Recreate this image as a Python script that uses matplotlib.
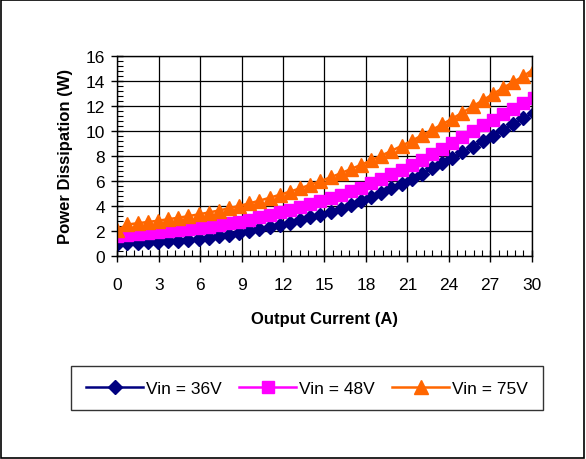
"""Power dissipation vs output current for three input voltages."""
import matplotlib
matplotlib.use("Agg")
import matplotlib.pyplot as plt
import numpy as np
from matplotlib.patches import Rectangle
from matplotlib.ticker import MultipleLocator

plt.rcParams.update({
    "font.family": ["Liberation Sans", "DejaVu Sans"],
    "font.size": 12.5,
})

# sampled output current (A), evenly spaced samples
current = np.arange(42) * 0.735

p_36v = [0.95, 0.98, 1.02, 1.06, 1.10, 1.15, 1.21, 1.27, 1.34, 1.44,
         1.57, 1.69, 1.82, 1.97, 2.13, 2.29, 2.45, 2.64, 2.85, 3.06,
         3.27, 3.50, 3.78, 4.06, 4.35, 4.68, 5.04, 5.39, 5.75, 6.13,
         6.56, 6.99, 7.42, 7.85, 8.29, 8.73, 9.17, 9.62, 10.08, 10.54,
         11.00, 11.47]
p_48v = [1.58, 1.65, 1.72, 1.79, 1.86, 1.94, 2.02, 2.11, 2.19, 2.32,
         2.45, 2.58, 2.72, 2.88, 3.08, 3.27, 3.47, 3.66, 3.90, 4.13,
         4.36, 4.62, 4.90, 5.18, 5.46, 5.81, 6.17, 6.52, 6.88, 7.26,
         7.70, 8.14, 8.58, 9.06, 9.53, 9.99, 10.46, 10.91, 11.34, 11.77,
         12.20, 12.63]
p_75v = [2.05, 2.50, 2.60, 2.70, 2.80, 2.92, 3.04, 3.17, 3.31, 3.46,
         3.62, 3.80, 3.99, 4.19, 4.41, 4.64, 4.88, 5.13, 5.40, 5.68,
         5.98, 6.28, 6.60, 6.94, 7.28, 7.64, 8.02, 8.40, 8.80, 9.21,
         9.64, 10.08, 10.53, 10.99, 11.47, 11.96, 12.45, 12.95, 13.45, 13.92,
         14.38, 14.95]

series = [
    ("Vin = 36V", p_36v, "#000080", "D", 7.5, 7),
    ("Vin = 48V", p_48v, "#FF00FF", "s", 9, 8.5),
    ("Vin = 75V", p_75v, "#FF6600", "^", 10.5, 10),
]

fig = plt.figure(figsize=(5.86, 4.6), dpi=100)
ax = fig.add_axes([0.2002, 0.442, 0.7071, 0.434])

for label, vals, col, mk, ms, _ in series:
    ax.plot(current, vals, color=col, linewidth=1.8, marker=mk,
            markersize=ms, markerfacecolor=col, markeredgecolor=col,
            label=label)

ax.set_xlim(0, 30)
ax.set_ylim(0, 16)
ax.xaxis.set_major_locator(MultipleLocator(3))
ax.xaxis.set_minor_locator(MultipleLocator(0.6))
ax.yaxis.set_major_locator(MultipleLocator(2))
ax.yaxis.set_minor_locator(MultipleLocator(0.4))
ax.grid(True, which="major", color="black", linewidth=0.9)
ax.set_axisbelow(True)
for s in ax.spines.values():
    s.set_color("black")
    s.set_linewidth(1.0)
ax.tick_params(which="major", direction="inout", length=8, width=1,
               colors="black", labelsize=12.5)
ax.tick_params(which="minor", direction="in", length=4, width=0.8)
ax.tick_params(axis="x", which="major", pad=11)
ax.tick_params(axis="y", which="major", pad=5)

ax.set_xlabel("Output Current (A)", fontweight="bold", fontsize=12,
              labelpad=14)
ax.set_ylabel("Power Dissipation (W)", fontweight="bold", fontsize=12,
              labelpad=9)

leg = fig.legend(loc="center", bbox_to_anchor=(0.524, 0.154), ncol=3,
                 frameon=True, fancybox=False, shadow=False,
                 handlelength=3.3, handletextpad=0.15, columnspacing=1.0,
                 borderpad=0.85, fontsize=12.5)
leg.get_frame().set_edgecolor("black")
leg.get_frame().set_linewidth(1.0)
for h, (_, _, _, _, _, lms) in zip(leg.legend_handles, series):
    h.set_markersize(lms)

fig.patches.append(Rectangle((0.002, 0.003), 0.994, 0.994,
                             transform=fig.transFigure, fill=False,
                             edgecolor="black", linewidth=1.2))

fig.savefig("out.png", dpi=100)
